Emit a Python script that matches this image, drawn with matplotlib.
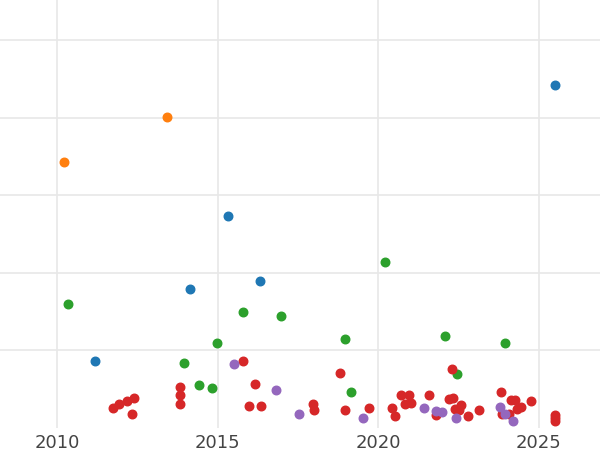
import matplotlib.pyplot as plt

orange_x = [2010.22, 2013.42]
orange_y = [3.43, 4.01]

blue_x = [2025.5, 2015.32, 2014.14, 2016.32, 2011.18]
blue_y = [4.43, 2.74, 1.79, 1.89, 0.86]

green_x = [2010.34, 2020.21, 2015.79, 2016.97, 2014.98, 2018.96, 2022.08, 2023.94,
           2013.95, 2014.42, 2014.82, 2019.15, 2022.45]
green_y = [1.60, 2.14, 1.50, 1.45, 1.10, 1.15, 1.19, 1.10,
           0.84, 0.55, 0.52, 0.46, 0.70]

purple_x = [2015.51, 2016.82, 2017.53, 2019.52, 2021.42, 2021.80, 2021.98, 2023.79,
            2023.94, 2024.19, 2022.42]
purple_y = [0.83, 0.49, 0.18, 0.13, 0.26, 0.22, 0.21, 0.27,
            0.18, 0.09, 0.13]

red_x = [2011.74, 2011.93, 2012.18, 2012.40, 2012.33, 2013.83, 2013.83, 2013.83,
         2015.79, 2015.98, 2016.16, 2016.35, 2017.97, 2018.00, 2018.81, 2018.96,
         2019.71, 2020.43, 2020.52, 2020.71, 2020.83, 2020.96, 2021.02, 2021.58,
         2021.80, 2022.20, 2022.32, 2022.29, 2022.39, 2022.51, 2022.57, 2022.79,
         2023.13, 2023.82, 2023.85, 2024.13, 2024.25, 2024.32, 2024.44, 2024.75,
         2025.5, 2025.5, 2025.5, 2024.07]
red_y = [0.26, 0.31, 0.35, 0.39, 0.18, 0.53, 0.43, 0.31,
         0.86, 0.28, 0.57, 0.28, 0.31, 0.23, 0.71, 0.23,
         0.26, 0.26, 0.15, 0.43, 0.31, 0.43, 0.32, 0.43,
         0.17, 0.37, 0.39, 0.76, 0.25, 0.23, 0.30, 0.15,
         0.23, 0.46, 0.18, 0.36, 0.36, 0.25, 0.27, 0.35,
         0.17, 0.13, 0.09, 0.18]

fig = plt.figure(figsize=(6, 4.5), dpi=100)
ax = fig.add_axes([0, 0.049, 1, 0.951])

ax.scatter(blue_x, blue_y, c='#1f77b4', s=38, zorder=3)
ax.scatter(orange_x, orange_y, c='#ff7f0e', s=38, zorder=3)
ax.scatter(green_x, green_y, c='#2ca02c', s=38, zorder=3)
ax.scatter(red_x, red_y, c='#d62728', s=38, zorder=3)
ax.scatter(purple_x, purple_y, c='#9467bd', s=38, zorder=3)

ax.set_xlim(2008.23, 2026.9)
ax.set_ylim(0, 5.52)
ax.set_xticks([2010, 2015, 2020, 2025])
ax.set_yticks([1, 2, 3, 4, 5])
ax.set_yticklabels([])
ax.grid(True, color='#e8e8e8', linewidth=1.2, zorder=0)
ax.tick_params(length=0, labelsize=13, labelcolor='#444444', pad=4)
for s in ax.spines.values():
    s.set_visible(False)

fig.savefig('out.png')
